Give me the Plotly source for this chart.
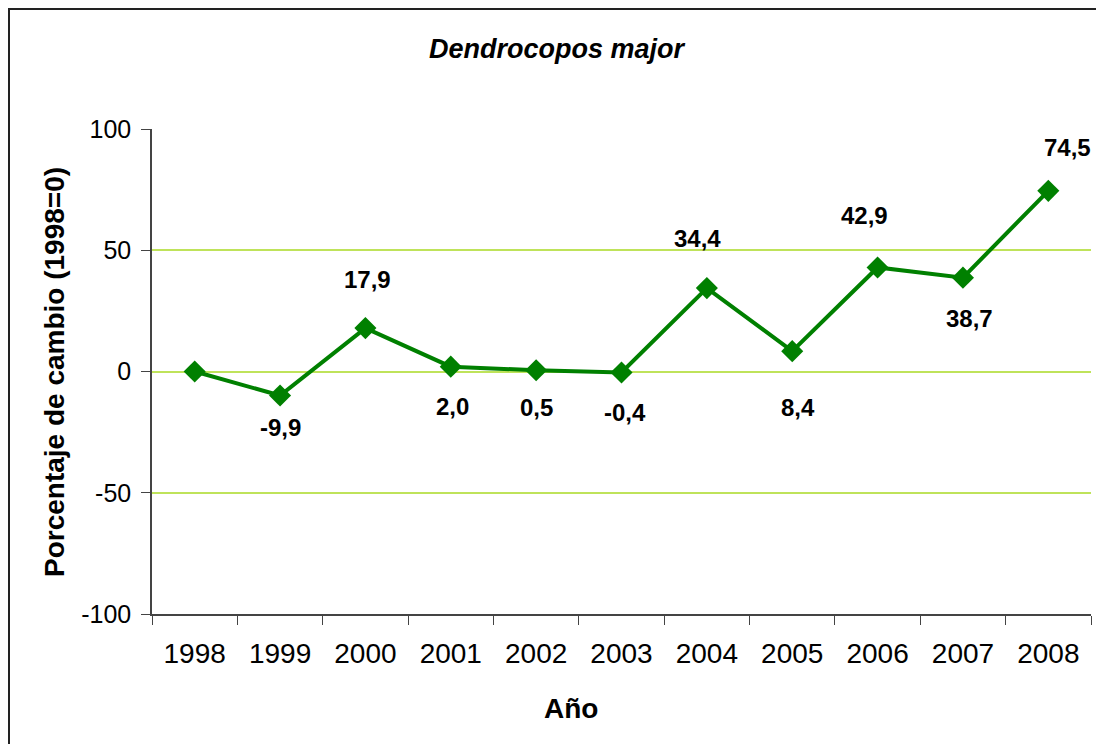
import plotly.graph_objects as go

# data
years = [1998, 1999, 2000, 2001, 2002, 2003, 2004, 2005, 2006, 2007, 2008]
change = [0.0, -9.9, 17.9, 2.0, 0.5, -0.4, 34.4, 8.4, 42.9, 38.7, 74.5]
labels = ['', '-9,9', '17,9', '2,0', '0,5', '-0,4', '34,4', '8,4', '42,9', '38,7', '74,5']
yticks = [-100, -50, 0, 50, 100]
yticktext = ['-100', '-50', '0', '50', '100']

FONT = 'Liberation Sans, Arial, sans-serif'
GREEN = '#008000'
AXIS = '#444444'

# page body adds an 8px margin, so the figure is drawn 8px smaller and
# positions below are given in reference pixels and converted
OFF = 8
W, H = 1104 - OFF, 744 - OFF
L, R, T, B = 152 - OFF, 1091 - OFF, 129 - OFF, 614 - OFF
PW, PH = R - L, B - T


def px(x):
    return (x - OFF - L) / PW


def py(y):
    return (B - (y - OFF)) / PH


# label placement (pixels, up is positive) as seen in the reference
label_dy = [0, -32, 49, -40, -37, -40, 50, -56, 52, -41, 43]
label_dx = [0, 0, 2, 2, 0, 3, -9, 6, -13, 7, 19]

fig = go.Figure()

fig.add_trace(go.Scatter(
    x=years, y=change, mode='lines+markers',
    line=dict(color=GREEN, width=4),
    marker=dict(symbol='diamond', size=17, color=GREEN),
    hoverinfo='x+y', showlegend=False, cliponaxis=False))

for yr, v, txt, dx, dy in zip(years, change, labels, label_dx, label_dy):
    if not txt:
        continue
    fig.add_annotation(x=yr, y=v, text='<b>' + txt + '</b>', showarrow=False,
                       xshift=dx, yshift=dy,
                       font=dict(family=FONT, size=24, color='black'))

# chart title and axis titles, placed like in the reference
fig.add_annotation(text='<b><i>Dendrocopos major</i></b>', xref='paper', yref='paper',
                   x=px(557), y=py(49), showarrow=False,
                   xanchor='center', yanchor='middle',
                   font=dict(family=FONT, size=27, color='black'))
fig.add_annotation(text='<b>Año</b>', xref='paper', yref='paper',
                   x=px(571), y=py(708), showarrow=False,
                   xanchor='center', yanchor='middle',
                   font=dict(family=FONT, size=28, color='black'))
fig.add_annotation(text='<b>Porcentaje de cambio (1998=0)</b>', xref='paper', yref='paper',
                   x=px(54), y=py(372), showarrow=False, textangle=-90,
                   xanchor='center', yanchor='middle',
                   font=dict(family=FONT, size=28, color='black'))

# outer chart frame (only top/left visible in reference)
fig.add_shape(type='rect', xref='paper', yref='paper',
              x0=px(9), x1=px(1130), y0=py(770), y1=py(9),
              line=dict(color='#222222', width=2), fillcolor='rgba(0,0,0,0)', layer='below')

fig.update_layout(
    width=W, height=H,
    margin=dict(l=L, r=W - R, t=T, b=H - B, autoexpand=False, pad=0),
    paper_bgcolor='white', plot_bgcolor='white',
    font=dict(family=FONT, color='black'),
    showlegend=False,
)

fig.update_xaxes(
    range=[1997.5, 2008.5], tickvals=years, ticktext=[str(y) for y in years],
    ticks='', showline=True, linecolor=AXIS, linewidth=1.5,
    minor=dict(tick0=1997.5, dtick=1, ticks='outside', ticklen=9, tickcolor=AXIS, showgrid=False),
    showgrid=False, zeroline=False,
    tickfont=dict(family=FONT, size=28, color='black'),
    ticklabelstandoff=14, automargin=False,
)

fig.update_yaxes(
    range=[-100, 100], tickvals=yticks, ticktext=yticktext, ticks='outside', ticklen=9,
    tickcolor=AXIS, showline=True, linecolor=AXIS, linewidth=1.5,
    showgrid=True, gridcolor='#bfe35a', gridwidth=1.5, zeroline=False,
    tickfont=dict(family=FONT, size=25, color='black'),
    ticklabelstandoff=5, automargin=False,
)

fig.write_html('out.html')
